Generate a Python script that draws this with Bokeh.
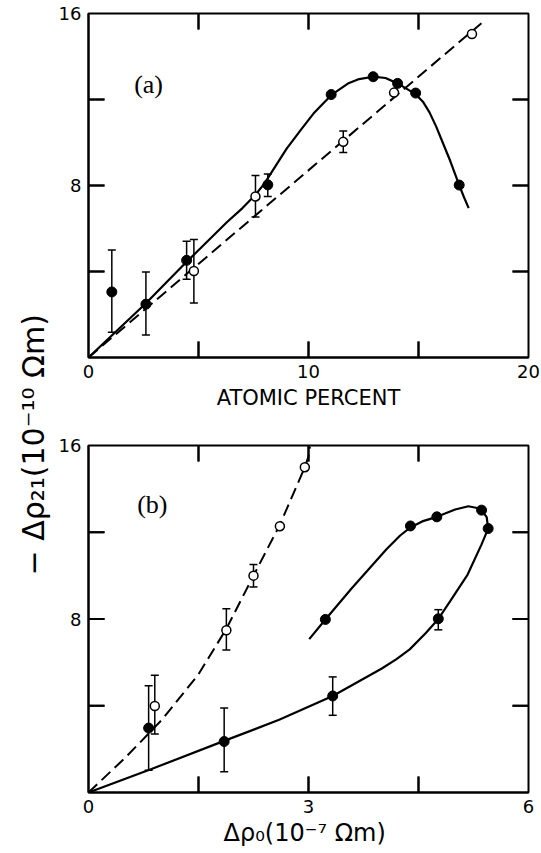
import numpy as np
from bokeh.plotting import figure
from bokeh.models import (ColumnDataSource, Whisker, TeeHead, Range1d, FixedTicker, Label)
from bokeh.layouts import row, column
from bokeh.embed import file_html
from bokeh.resources import INLINE

# ---------------- data ----------------
# panel (a): -d rho21 vs atomic percent
a_filled_x = [1.06, 2.61, 4.46, 8.15, 11.03, 12.94, 14.05, 14.87, 16.85]
a_filled_y = [3.05, 2.48, 4.52, 8.03, 12.23, 13.06, 12.75, 12.30, 8.02]
a_filled_err_x = [1.06, 2.61, 4.46, 8.15]
a_filled_err_lo = [1.17, 1.05, 3.64, 7.49]
a_filled_err_hi = [5.00, 3.98, 5.41, 8.53]

a_open_x = [4.79, 7.59, 11.58, 13.89, 17.43]
a_open_y = [4.02, 7.49, 10.03, 12.32, 15.05]
a_open_err_x = [4.79, 7.59, 11.58]
a_open_err_lo = [2.53, 6.54, 9.53]
a_open_err_hi = [5.49, 8.46, 10.54]

a_curve_x = [0.0, 2.61, 4.46, 5.09, 6.3, 7.0, 7.6, 8.0, 8.5, 9.0, 9.66, 10.27, 11.03,
             11.79, 12.3, 12.94, 13.5, 14.05, 14.87, 15.2, 15.5, 15.8, 16.1, 16.44,
             16.85, 17.05, 17.28]
a_curve_y = [0.0, 2.52, 4.45, 5.08, 6.3, 6.95, 7.58, 8.1, 8.9, 9.7, 10.6, 11.4, 12.2,
             12.74, 12.95, 13.06, 13.0, 12.75, 12.25, 11.9, 11.4, 10.75, 10.0, 9.15,
             8.02, 7.5, 6.95]
a_line_x = [0.0, 17.86]
a_line_y = [0.0, 15.55]

# panel (b): -d rho21 vs d rho0
b_filled_x = [0.82, 1.85, 3.33, 4.77, 5.45, 5.36, 4.75, 4.39, 3.23]
b_filled_y = [2.97, 2.35, 4.45, 8.01, 12.17, 13.02, 12.71, 12.29, 7.98]
b_filled_err_x = [0.82, 1.85, 3.33, 4.77]
b_filled_err_lo = [1.03, 0.96, 3.56, 7.50]
b_filled_err_hi = [4.92, 3.90, 5.33, 8.43]

b_open_x = [0.904, 1.88, 2.25, 2.61, 2.95]
b_open_y = [3.99, 7.48, 10.0, 12.28, 15.0]
b_open_err_x = [0.904, 1.88, 2.25]
b_open_err_lo = [2.70, 6.57, 9.48]
b_open_err_hi = [5.41, 8.47, 10.51]

b_curve_x = [0.0, 0.85, 1.85, 2.6, 3.33, 4.0, 4.2, 4.38, 4.6, 4.77, 4.93, 5.17, 5.36,
             5.45, 5.43, 5.36, 5.3, 5.18, 5.0, 4.75, 4.55, 4.39, 4.25, 4.06, 3.59,
             3.23, 3.01]
b_curve_y = [0.0, 1.07, 2.38, 3.35, 4.45, 5.72, 6.15, 6.6, 7.35, 8.0, 8.81, 10.05,
             11.44, 12.17, 12.7, 13.02, 13.12, 13.2, 13.05, 12.71, 12.5, 12.22, 11.85,
             11.2, 9.42, 7.98, 7.07]
b_dash_x = [0.0, 0.5, 1.0, 1.5, 1.88, 2.25, 2.61, 2.95, 3.0, 3.02]
b_dash_y = [0.0, 1.6, 3.35, 5.45, 7.55, 10.0, 12.35, 15.0, 15.5, 15.95]

a_xticks = [0, 5, 10, 15, 20]
b_xticks = [0, 1.5, 3, 4.5, 6]
yticks = [0, 4, 8, 12, 16]

# ---------------- layout ----------------
FONT = "DejaVu Sans"
LAB_W = 54
W = 541 - LAB_W
FRAME_L = 88 - LAB_W
FRAME_W = 440
TICK_PX = 16  # inward tick length in pixels


def inward_ticks(p, xticks, frame_h):
    """Inward ticks on all four frame edges, at the tick values."""
    xr, yr = p.x_range, p.y_range
    xin = [float(t) for t in xticks if xr.start < t < xr.end]
    yin = [float(t) for t in yticks if yr.start < t < yr.end]
    dy = TICK_PX * (yr.end - yr.start) / frame_h
    dx = TICK_PX * (xr.end - xr.start) / FRAME_W
    n, m = len(xin), len(yin)
    sides = [
        (xin, [float(yr.start)] * n, xin, [yr.start + dy] * n),   # bottom
        (xin, [float(yr.end)] * n, xin, [yr.end - dy] * n),       # top
        ([float(xr.start)] * m, yin, [xr.start + dx] * m, yin),   # left
        ([float(xr.end)] * m, yin, [xr.end - dx] * m, yin),       # right
    ]
    for x0, y0, x1, y1 in sides:
        src = ColumnDataSource(dict(x0=x0, y0=y0, x1=x1, y1=y1))
        for lvl in ("glyph", "overlay"):
            p.segment(x0="x0", y0="y0", x1="x1", y1="y1", source=src,
                      line_color="black", line_width=2, level=lvl)


def make_panel(xr, xticks, x_unlab, height, top, frame_h, xlabel, xlabel_size,
               xlabel_standoff):
    p = figure(width=W, height=height, x_range=Range1d(*xr), y_range=Range1d(0, 16),
               output_backend="svg", toolbar_location=None,
               min_border_left=FRAME_L, min_border_right=W - FRAME_L - FRAME_W,
               min_border_top=top, min_border_bottom=height - top - frame_h,
               background_fill_color="white", border_fill_color="white")
    p.grid.visible = False
    p.outline_line_color = "black"
    p.outline_line_width = 2

    xa = p.xaxis[0]
    xa.ticker = FixedTicker(ticks=xticks)
    xa.major_label_overrides = {t: "" for t in x_unlab}
    ya = p.yaxis[0]
    ya.ticker = FixedTicker(ticks=yticks)
    ya.major_label_overrides = {0: "", 4: "", 12: ""}
    for ax in (xa, ya):
        ax.axis_line_width = 2
        ax.major_tick_line_color = None
        ax.major_tick_in = 0
        ax.major_tick_out = 0
        ax.minor_tick_line_color = None
        ax.major_label_text_font = FONT
        ax.major_label_text_font_size = "18px"
        ax.major_label_text_color = "black"
    xa.major_label_standoff = 7
    ya.major_label_standoff = 7
    xa.axis_label = xlabel
    xa.axis_label_text_font = FONT
    xa.axis_label_text_font_size = xlabel_size
    xa.axis_label_text_font_style = "normal"
    xa.axis_label_text_color = "black"
    xa.axis_label_standoff = xlabel_standoff
    inward_ticks(p, xticks, frame_h)
    return p


def add_errors(p, xs, lo, hi):
    src = ColumnDataSource(dict(x=xs, lo=lo, hi=hi))
    w = Whisker(source=src, base="x", lower="lo", upper="hi", dimension="height",
                line_width=1.5, line_color="black", level="underlay",
                upper_head=TeeHead(size=8, line_width=1.5, line_color="black"),
                lower_head=TeeHead(size=8, line_width=1.5, line_color="black"))
    p.add_layout(w)


# panel (a)
pa = make_panel((0, 20), a_xticks, [5, 15], 428, 13, 344, "ATOMIC PERCENT", "21px", 5)
add_errors(pa, a_filled_err_x, a_filled_err_lo, a_filled_err_hi)
add_errors(pa, a_open_err_x, a_open_err_lo, a_open_err_hi)
pa.line(a_line_x, a_line_y, line_color="black", line_width=2, line_dash="12 6")
pa.line(a_curve_x, a_curve_y, line_color="black", line_width=2.2)
pa.scatter(a_filled_x, a_filled_y, marker="circle", size=10, fill_color="black",
           line_color="black")
pa.scatter(a_open_x, a_open_y, marker="circle", size=9, fill_color="white",
           line_color="black", line_width=1.5)
pa.add_layout(Label(x=2.73, y=12.72, text="(a)", text_align="center",
                    text_baseline="middle", text_font="Liberation Serif",
                    text_font_size="26px", text_color="black"))

# panel (b)
pb = make_panel((0, 6), b_xticks, [1.5, 4.5], 853 - 428, 17, 347,
                "Δρ₀(10⁻⁷  Ωm)", "24px", 3)
add_errors(pb, b_filled_err_x, b_filled_err_lo, b_filled_err_hi)
add_errors(pb, b_open_err_x, b_open_err_lo, b_open_err_hi)
pb.line(b_dash_x, b_dash_y, line_color="black", line_width=2, line_dash="12 6")
pb.line(b_curve_x, b_curve_y, line_color="black", line_width=2.2)
pb.scatter(b_filled_x, b_filled_y, marker="circle", size=10, fill_color="black",
           line_color="black")
pb.scatter(b_open_x, b_open_y, marker="circle", size=9, fill_color="white",
           line_color="black", line_width=1.5)
pb.add_layout(Label(x=0.87, y=13.3, text="(b)", text_align="center",
                    text_baseline="middle", text_font="Liberation Serif",
                    text_font_size="26px", text_color="black"))

# shared y-axis title
pl = figure(width=LAB_W, height=853, x_range=Range1d(0, LAB_W), y_range=Range1d(0, 853),
            output_backend="svg", toolbar_location=None, min_border=0,
            x_axis_location=None, y_axis_location=None, outline_line_color=None,
            background_fill_color="white", border_fill_color="white")
pl.grid.visible = False
pl.add_layout(Label(x=33, y=853 - 575, text="−  Δρ₂₁(10⁻¹⁰   Ωm)", angle=np.pi / 2,
                    text_align="left", text_baseline="middle", text_font=FONT,
                    text_font_size="30px", text_color="black"))

layout = row(pl, column(pa, pb))
open("out.html", "w").write(file_html(layout, INLINE))
